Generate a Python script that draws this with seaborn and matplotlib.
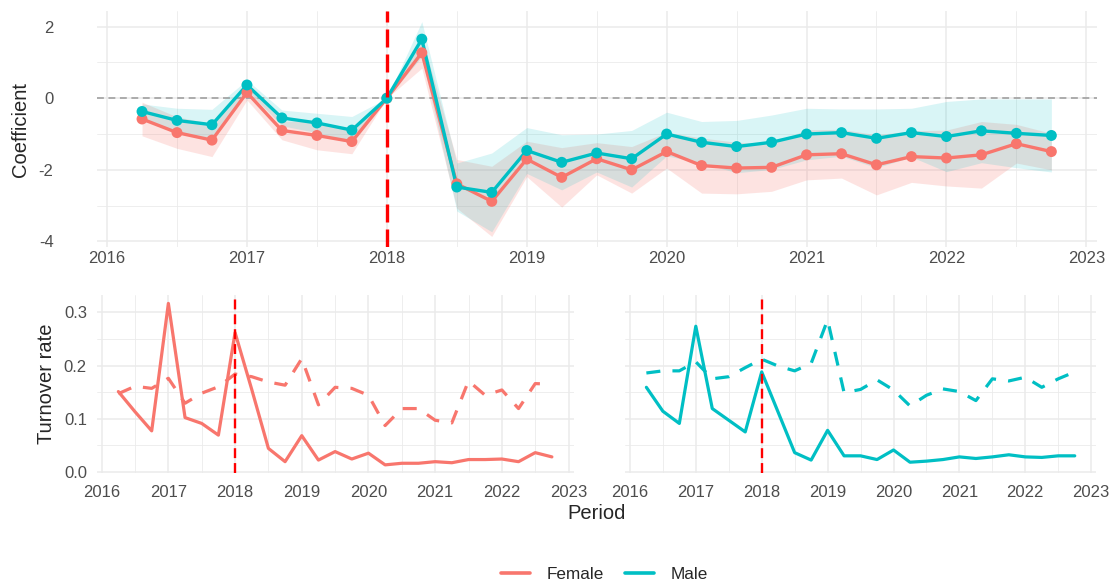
import pandas as pd
import matplotlib.pyplot as plt
import seaborn as sns
from matplotlib.ticker import MultipleLocator
from matplotlib.lines import Line2D

sns.set_style("white")
plt.rcParams['font.family'] = ['Liberation Sans', 'DejaVu Sans']
plt.rcParams['axes.unicode_minus'] = False

# quarters, 2016Q2 .. 2022Q4
period = [2016.25, 2016.5, 2016.75,
          2017.0, 2017.25, 2017.5, 2017.75,
          2018.0, 2018.25, 2018.5, 2018.75,
          2019.0, 2019.25, 2019.5, 2019.75,
          2020.0, 2020.25, 2020.5, 2020.75,
          2021.0, 2021.25, 2021.5, 2021.75,
          2022.0, 2022.25, 2022.5, 2022.75]

# event-study coefficients (top panel)
coef_female = [-0.58, -0.96, -1.17, 0.16, -0.90, -1.04, -1.21, 0.0, 1.27, -2.39, -2.88,
               -1.70, -2.21, -1.69, -2.00, -1.49, -1.88, -1.95, -1.93, -1.58, -1.55,
               -1.86, -1.63, -1.67, -1.58, -1.27, -1.49]
lo_female = [-1.05, -1.40, -1.63, -0.05, -1.16, -1.44, -1.55, 0.0, 0.84, -3.07, -3.86,
             -2.19, -3.04, -2.14, -2.65, -1.95, -2.65, -2.67, -2.60, -2.28, -2.23,
             -2.70, -2.35, -2.45, -2.51, -1.81, -2.00]
hi_female = [-0.11, -0.52, -0.71, 0.37, -0.64, -0.64, -0.87, 0.0, 1.70, -1.71, -1.90,
             -1.20, -1.38, -1.24, -1.35, -0.95, -1.11, -1.23, -1.26, -0.88, -0.87,
             -1.02, -0.91, -0.89, -0.65, -0.73, -0.98]

coef_male = [-0.37, -0.62, -0.74, 0.37, -0.55, -0.69, -0.89, 0.0, 1.65, -2.48, -2.63,
             -1.46, -1.79, -1.53, -1.69, -1.00, -1.23, -1.35, -1.23, -1.00, -0.96,
             -1.12, -0.96, -1.07, -0.91, -0.98, -1.04]
lo_male = [-0.58, -0.96, -1.17, 0.23, -0.77, -0.96, -1.27, 0.0, 1.16, -3.15, -3.73,
           -2.10, -2.56, -2.06, -2.48, -1.61, -1.81, -2.08, -1.99, -1.72, -1.62,
           -1.94, -1.64, -2.05, -1.80, -1.94, -2.06]
hi_male = [-0.16, -0.28, -0.31, 0.51, -0.33, -0.42, -0.51, 0.0, 2.14, -1.81, -1.53,
           -0.82, -1.02, -1.00, -0.90, -0.39, -0.65, -0.62, -0.47, -0.28, -0.30,
           -0.30, -0.28, -0.09, -0.02, -0.02, -0.02]

# turnover rates (bottom panels): solid = turnover, dashed = comparison series
turn_female = [0.151, 0.113, 0.077, 0.317, 0.102, 0.091, 0.069, 0.262, 0.155, 0.044, 0.019,
               0.068, 0.022, 0.038, 0.024, 0.035, 0.013, 0.016, 0.016, 0.019, 0.017,
               0.023, 0.023, 0.024, 0.019, 0.036, 0.028]
comp_female = [0.147, 0.161, 0.157, 0.176, 0.129, 0.148, 0.160, 0.184, 0.179, 0.169, 0.163,
               0.213, 0.126, 0.159, 0.157, 0.144, 0.087, 0.119, 0.119, 0.097, 0.092,
               0.171, 0.144, 0.154, 0.119, 0.166, 0.165]
turn_male = [0.159, 0.114, 0.091, 0.274, 0.119, 0.097, 0.075, 0.188, 0.112, 0.036, 0.022,
             0.078, 0.030, 0.030, 0.023, 0.041, 0.018, 0.020, 0.023, 0.028, 0.025,
             0.028, 0.032, 0.028, 0.027, 0.030, 0.030]
comp_male = [0.186, 0.190, 0.190, 0.207, 0.175, 0.179, 0.196, 0.212, 0.199, 0.190, 0.204,
             0.286, 0.149, 0.155, 0.173, 0.154, 0.124, 0.144, 0.156, 0.151, 0.134,
             0.175, 0.171, 0.178, 0.159, 0.175, 0.188]

genders = ["Female", "Male"]
colors = {"Female": "#F8766D", "Male": "#00BFC4"}
event_year = 2018

# long tables for seaborn
n = len(period)
top = pd.DataFrame({
    "Period": period * 2,
    "Coefficient": coef_female + coef_male,
    "lo": lo_female + lo_male,
    "hi": hi_female + hi_male,
    "Gender": ["Female"] * n + ["Male"] * n,
})
bottom = pd.DataFrame({
    "Period": period * 4,
    "Rate": turn_female + comp_female + turn_male + comp_male,
    "Gender": ["Female"] * (2 * n) + ["Male"] * (2 * n),
    "Series": (["Turnover"] * n + ["Comparison"] * n) * 2,
})

grid_c = "#EBEBEB"
tick_c = "#4D4D4D"


def style_axis(ax, xpad, ypad):
    ax.xaxis.set_major_locator(MultipleLocator(1))
    ax.xaxis.set_minor_locator(MultipleLocator(0.5))
    ax.grid(which="major", color=grid_c, lw=1.1)
    ax.grid(which="minor", color=grid_c, lw=0.6)
    ax.set_axisbelow(True)
    for s in ax.spines.values():
        s.set_visible(False)
    ax.tick_params(which="both", length=0, labelsize=12, labelcolor=tick_c)
    ax.tick_params(axis="x", pad=xpad)
    ax.tick_params(axis="y", pad=ypad)
    ax.set_xlim(2015.925, 2023.075)
    ax.set_xlabel("")
    ax.set_ylabel("")


fig = plt.figure(figsize=(11.15, 5.87), dpi=100)
ax_top = fig.add_axes([0.0866, 0.5789, 0.8971, 0.4026])
ax_l = fig.add_axes([0.0867, 0.1945, 0.4277, 0.3022])
ax_r = fig.add_axes([0.5605, 0.1945, 0.4226, 0.3022])

# Top: coefficients with confidence bands
for g, a in zip(genders, [0.2, 0.15]):
    d = top[top["Gender"] == g]
    ax_top.fill_between(d["Period"], d["lo"], d["hi"], color=colors[g], alpha=a, lw=0)
ax_top.axhline(0, color="#999999", lw=1.1, ls=(0, (4.5, 3)), zorder=1)
sns.lineplot(data=top, x="Period", y="Coefficient", hue="Gender", palette=colors,
             lw=2.4, legend=False, ax=ax_top)
sns.scatterplot(data=top, x="Period", y="Coefficient", hue="Gender", palette=colors,
                s=62, linewidth=0, legend=False, ax=ax_top, zorder=3)
ax_top.axvline(event_year, color="#FF0000", lw=2.4, ls=(0, (5.4, 2.1)), zorder=4)
style_axis(ax_top, 2.5, 31)
ax_top.yaxis.set_major_locator(MultipleLocator(2))
ax_top.yaxis.set_minor_locator(MultipleLocator(1))
ax_top.set_ylim(-4.16, 2.44)

# Bottom: turnover rate by gender
for ax, g in [(ax_l, "Female"), (ax_r, "Male")]:
    sns.lineplot(data=bottom[bottom["Gender"] == g], x="Period", y="Rate",
                 style="Series", color=colors[g], lw=2.3,
                 dashes={"Turnover": "", "Comparison": (4.4, 3.8)},
                 legend=False, ax=ax)
    ax.axvline(event_year, color="#FF0000", lw=1.7, ls=(0, (4.2, 2.1)), zorder=4)
    style_axis(ax, 8.5, 7)
    ax.yaxis.set_major_locator(MultipleLocator(0.1))
    ax.yaxis.set_minor_locator(MultipleLocator(0.05))
    ax.set_ylim(-0.002, 0.332)
ax_l.yaxis.set_major_formatter(lambda v, p: f"{v:.1f}")
ax_r.tick_params(axis="y", labelleft=False)

fig.text(0.018, 0.780, "Coefficient", rotation=90, ha="center", va="center", fontsize=14.5)
fig.text(0.042, 0.346, "Turnover rate", rotation=90, ha="center", va="center", fontsize=14.5)
fig.text(0.535, 0.126, "Period", ha="center", va="center", fontsize=14.5)

handles = [Line2D([], [], color=colors[g], lw=2.6) for g in genders]
fig.legend(handles, genders, loc="center", bbox_to_anchor=(0.542, 0.022), ncol=2,
           frameon=False, fontsize=12.3, handlelength=1.7, columnspacing=1.2,
           handletextpad=1.0)

fig.savefig("out.png", dpi=100)
